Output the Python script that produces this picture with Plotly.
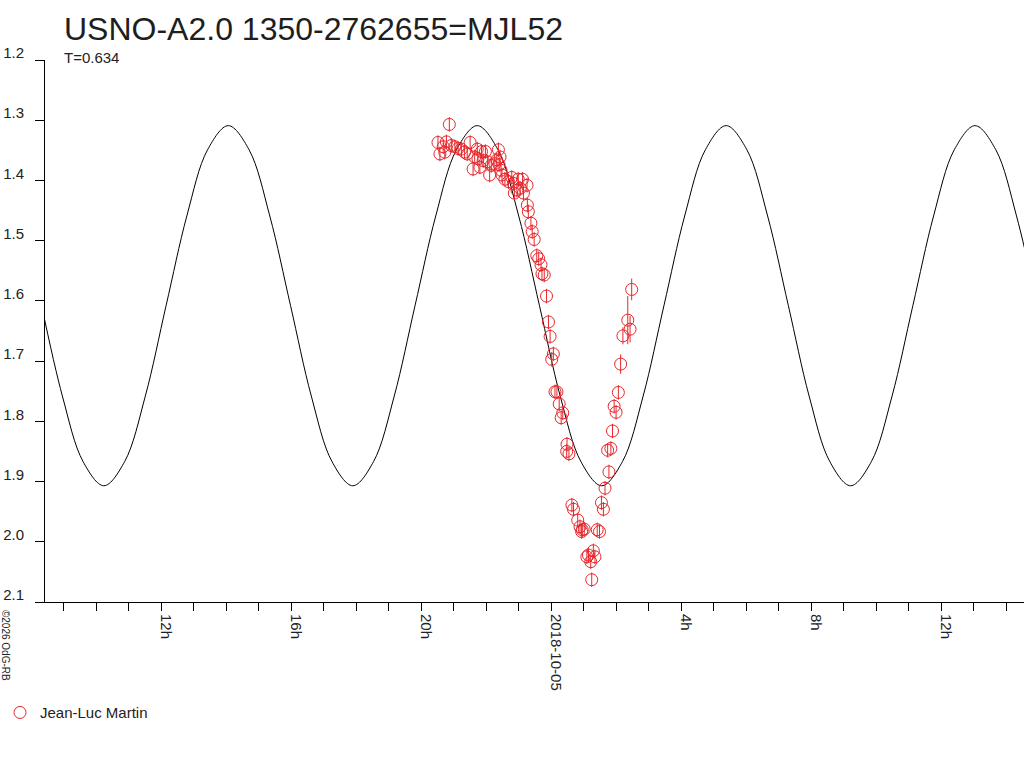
import pandas as pd
import plotly.graph_objects as go

RED = "#e8262b"
FONT = "Liberation Sans, Arial, sans-serif"

# observation times (hours since 2018-10-04 00:00 UT) and magnitudes
obs_hours = [
    20.52, 20.58, 20.68, 20.73, 20.78, 20.87, 20.93, 21.04, 21.14, 21.24,
    21.34, 21.42, 21.51, 21.60, 21.65, 21.73, 21.75, 21.81, 21.86, 21.91,
    21.98, 22.04, 22.11, 22.16, 22.27, 22.33, 22.38, 22.40, 22.43, 22.46,
    22.49, 22.58, 22.69, 22.79, 22.84, 22.87, 22.95, 22.99, 23.05, 23.12,
    23.15, 23.26, 23.27, 23.30, 23.38, 23.42, 23.48, 23.56, 23.62, 23.69,
    23.72, 23.79, 23.86, 23.92, 23.97, 24.02, 24.07, 24.12, 24.18, 24.25,
    24.31, 24.36, 24.48, 24.49, 24.55, 24.64, 24.69, 24.82, 24.89, 24.94,
    24.96, 25.02, 25.10, 25.15, 25.22, 25.25, 25.30, 25.35, 25.42, 25.49,
    25.55, 25.61, 25.66, 25.74, 25.78, 25.84, 25.89, 25.94, 26.00, 26.07,
    26.14, 26.21, 26.36, 26.43, 26.48,
]
obs_mag = [
    1.337, 1.356, 1.344, 1.353, 1.336, 1.307, 1.342, 1.344, 1.347, 1.348,
    1.353, 1.356, 1.337, 1.381, 1.361, 1.348, 1.364, 1.378, 1.352, 1.367,
    1.352, 1.369, 1.391, 1.375, 1.372, 1.366, 1.349, 1.374, 1.361, 1.383,
    1.391, 1.398, 1.402, 1.395, 1.405, 1.421, 1.416, 1.398, 1.413, 1.398,
    1.421, 1.408, 1.441, 1.452, 1.471, 1.485, 1.498, 1.525, 1.530, 1.540,
    1.555, 1.557, 1.592, 1.635, 1.659, 1.697, 1.688, 1.751, 1.751, 1.771,
    1.794, 1.786, 1.850, 1.838, 1.854, 1.939, 1.946, 1.964, 1.975, 1.983,
    1.980, 1.979, 2.025, 2.022, 2.033, 2.063, 2.015, 2.025, 1.980, 1.983,
    1.935, 1.946, 1.911, 1.848, 1.884, 1.845, 1.816, 1.775, 1.785, 1.752,
    1.705, 1.658, 1.632, 1.647, 1.581,
]
obs_err = [0.012] * 90 + [0.016, 0.014, 0.040, 0.022, 0.018]

# model light curve (hours since 2018-10-04 00:00 UT)
model_hours = [
    8.327, 8.965, 9.603, 10.241, 10.879, 11.517, 12.155, 12.794, 13.432,
    14.070, 14.708, 15.346, 15.985, 16.623, 17.261, 17.899, 18.537, 19.175,
    19.814, 20.452, 21.090, 21.728, 22.366, 23.004, 23.643, 24.281, 24.919,
    25.557, 26.195, 26.833, 27.472, 28.110, 28.748, 29.386, 30.024, 30.662,
    31.301, 31.939, 32.577, 33.215, 33.853, 34.491, 35.130, 35.768, 36.406,
    37.044, 37.682, 38.320, 38.959,
]
model_mag = [
    1.608, 1.758, 1.867, 1.907, 1.867, 1.758, 1.608, 1.459, 1.349,
    1.309, 1.349, 1.459, 1.608, 1.758, 1.867, 1.907, 1.867, 1.758,
    1.608, 1.459, 1.349, 1.309, 1.349, 1.459, 1.608, 1.758, 1.867,
    1.907, 1.867, 1.758, 1.608, 1.459, 1.349, 1.309, 1.349, 1.459,
    1.608, 1.758, 1.867, 1.907, 1.867, 1.758, 1.608, 1.459, 1.349,
    1.309, 1.349, 1.459, 1.608,
]

y_ticks = [1.2, 1.3, 1.4, 1.5, 1.6, 1.7, 1.8, 1.9, 2.0, 2.1]
x_label_times = ["2018-10-04 12:00", "2018-10-04 16:00", "2018-10-04 20:00",
                 "2018-10-05 00:00", "2018-10-05 04:00", "2018-10-05 08:00",
                 "2018-10-05 12:00"]
x_labels = ["12h", "16h", "20h", "2018-10-05", "4h", "8h", "12h"]

t0 = pd.Timestamp("2018-10-04 00:00")
obs_t = t0 + pd.to_timedelta(obs_hours, unit="h")
model_t = t0 + pd.to_timedelta(model_hours, unit="h")
x_start = t0 + pd.to_timedelta(8.43, unit="h")
x_end = t0 + pd.to_timedelta(38.55, unit="h")

hour_ticks = pd.date_range("2018-10-04 09:00", "2018-10-05 14:00", freq="h")
label_map = dict(zip(pd.to_datetime(x_label_times), x_labels))
tick_text = [label_map.get(t, "") for t in hour_ticks]

fig = go.Figure()
fig.add_trace(go.Scatter(
    x=model_t, y=model_mag, mode="lines",
    line=dict(color="black", width=1, shape="spline", smoothing=1),
    showlegend=False, hoverinfo="skip",
))
fig.add_trace(go.Scatter(
    x=obs_t, y=obs_mag, mode="markers", name="Jean-Luc Martin",
    marker=dict(symbol="circle-open", size=12, color=RED, line=dict(width=1)),
    error_y=dict(type="data", array=obs_err, color=RED, thickness=1, width=0),
))

fig.update_layout(
    width=1024, height=768,
    margin=dict(l=45, r=0, t=60, b=166),
    paper_bgcolor="white", plot_bgcolor="white",
    font=dict(family=FONT, size=15, color="#222222"),
    showlegend=True,
    legend=dict(orientation="h", xref="paper", yref="container",
                x=-0.0562, y=0.072, xanchor="left", yanchor="middle",
                font=dict(size=15, color="#222222"), itemwidth=30),
    xaxis=dict(
        type="date", range=[x_start, x_end], automargin=False,
        showgrid=False, zeroline=False,
        showline=True, linecolor="black", linewidth=1,
        ticks="outside", ticklen=8, tickcolor="black",
        tickvals=hour_ticks, ticktext=tick_text, tickangle=90,
        ticklabelshift=5,
    ),
    yaxis=dict(
        range=[2.1, 1.2], automargin=False,
        showgrid=False, zeroline=False,
        showline=True, linecolor="black", linewidth=1,
        ticks="outside", ticklen=9, tickcolor="black",
        tickvals=y_ticks, ticktext=[f"{v:.1f}" for v in y_ticks],
        ticklabelshift=7, ticklabelstandoff=8,
    ),
    annotations=[
        dict(text="USNO-A2.0 1350-2762655=MJL52", xref="paper", yref="paper",
             x=0.0174, y=1.0563, xanchor="left", yanchor="middle",
             showarrow=False, font=dict(size=32, color="#1e1e1e")),
        dict(text="T=0.634", xref="paper", yref="paper",
             x=0.0174, y=1.0055, xanchor="left", yanchor="middle",
             showarrow=False, font=dict(size=15, color="#222222")),
        dict(text="©2026 OdG-RB", xref="paper", yref="paper",
             x=-0.0409, y=-0.081, xanchor="center", yanchor="middle",
             textangle=90, showarrow=False, font=dict(size=10, color="#222222")),
    ],
)

# drop the browser's default 8px body margin so the figure sits in the corner
fig.write_html("out.html", config={"displayModeBar": False},
               post_script="document.body.style.margin = '0';")
